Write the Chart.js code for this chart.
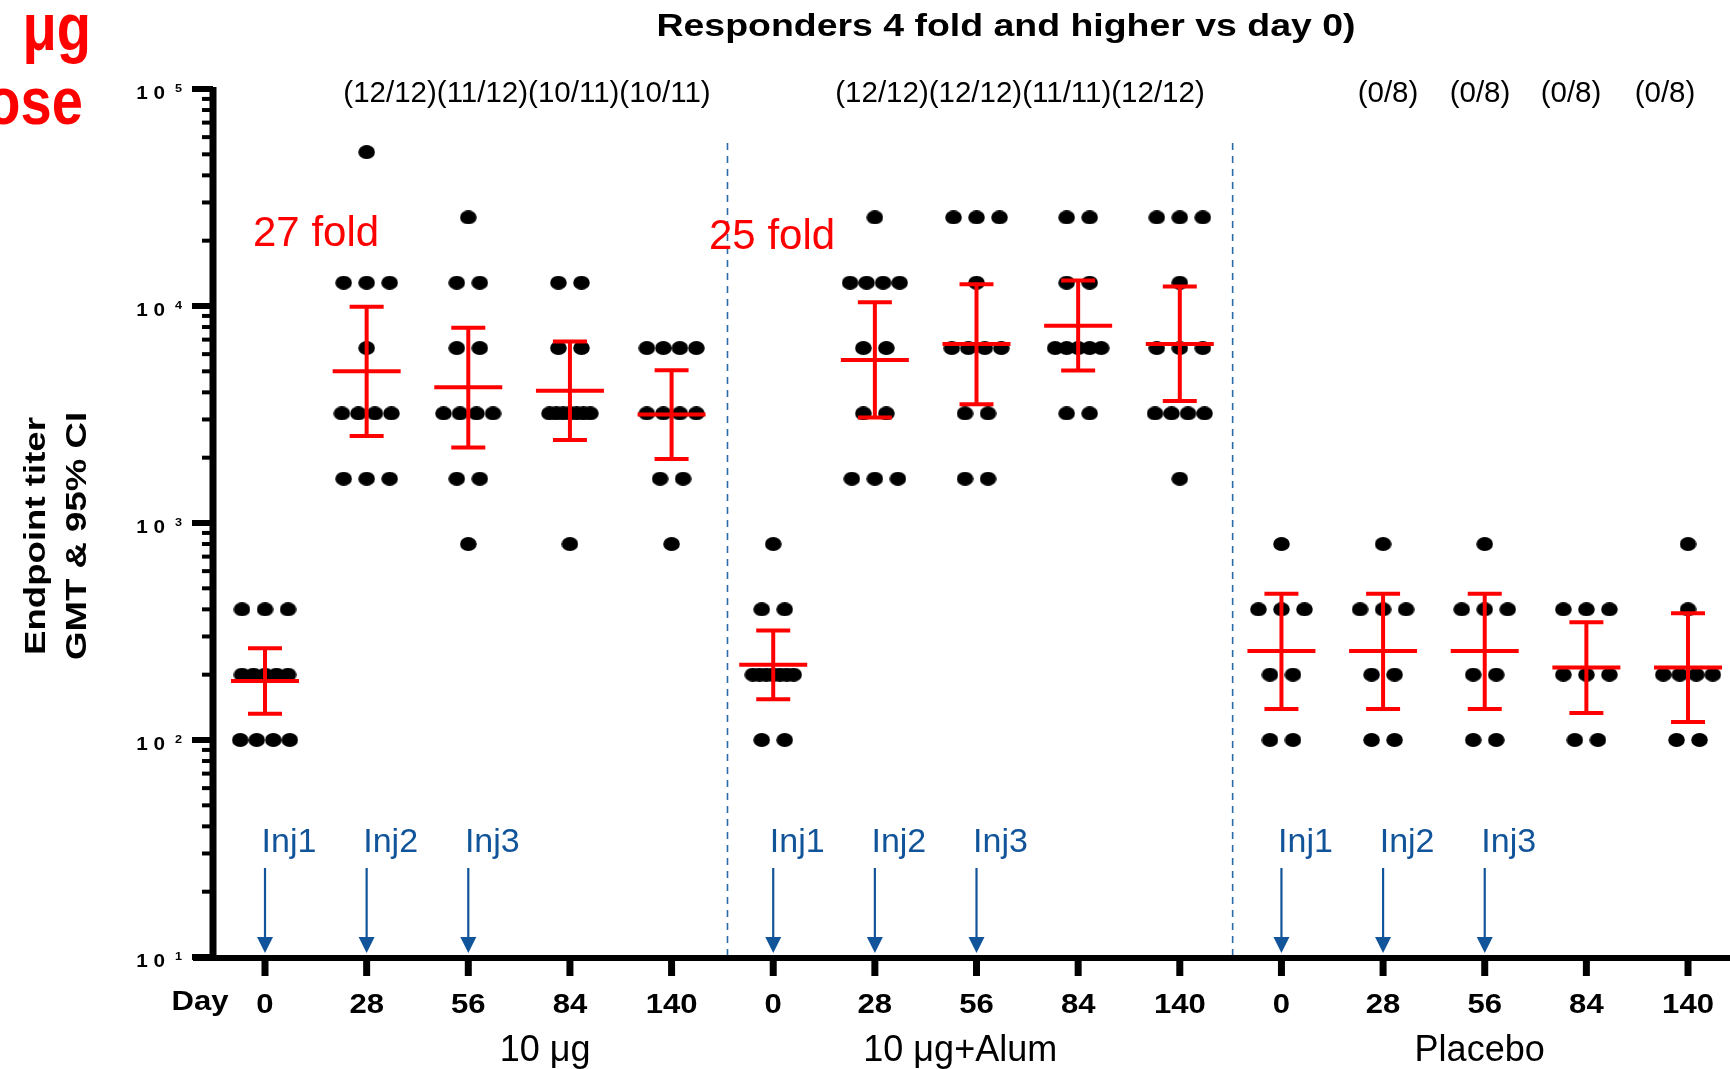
<!DOCTYPE html>
<html>
<head>
<meta charset="utf-8">
<script src="https://cdn.jsdelivr.net/npm/chart.js@4.4.1/dist/chart.umd.min.js"></script>
<style>
  html, body { margin: 0; padding: 0; background: #fff; overflow: hidden; }
</style>
</head>
<body>
<canvas id="titerChart" width="1730" height="1069"></canvas>
<script>
// groups and sampling days along the x axis
const groups = ['10 μg', '10 μg+Alum', 'Placebo'];
const days = ['0', '28', '56', '84', '140'];
const yTickPowers = [1, 2, 3, 4, 5];

// individual endpoint titers, one array per day
const titers10 = [
    [400, 400, 400, 200, 200, 200, 200, 200, 100, 100, 100, 100],
    [51200, 12800, 12800, 12800, 6400, 3200, 3200, 3200, 3200, 1600, 1600, 1600],
    [25600, 12800, 12800, 6400, 6400, 3200, 3200, 3200, 3200, 1600, 1600, 800],
    [12800, 12800, 6400, 6400, 3200, 3200, 3200, 3200, 3200, 3200, 3200, 800],
    [6400, 6400, 6400, 6400, 3200, 3200, 3200, 3200, 1600, 1600, 800]
];
const titersAlum = [
    [800, 400, 400, 200, 200, 200, 200, 200, 200, 200, 100, 100],
    [25600, 12800, 12800, 12800, 12800, 6400, 6400, 3200, 3200, 1600, 1600, 1600],
    [25600, 25600, 25600, 12800, 6400, 6400, 6400, 6400, 3200, 3200, 1600, 1600],
    [25600, 25600, 12800, 12800, 6400, 6400, 6400, 6400, 6400, 3200, 3200],
    [25600, 25600, 25600, 12800, 6400, 6400, 6400, 3200, 3200, 3200, 3200, 1600]
];
const titersPlacebo = [
    [800, 400, 400, 400, 200, 200, 100, 100],
    [800, 400, 400, 400, 200, 200, 100, 100],
    [800, 400, 400, 400, 200, 200, 100, 100],
    [400, 400, 400, 200, 200, 200, 100, 100],
    [800, 400, 200, 200, 200, 200, 100, 100]
];

// GMT and 95% CI
const gmt10 = [187, 5010, 4220, 4070, 3160];
const ciLow10 = [132, 2520, 2230, 2410, 1970];
const ciHigh10 = [265, 9930, 7940, 6870, 5060];
const gmtAlum = [222, 5640, 6680, 8110, 6680];
const ciLowAlum = [154, 3060, 3530, 5040, 3650];
const ciHighAlum = [320, 10400, 12600, 13100, 12300];
const gmtPlacebo = [257, 257, 257, 216, 216];
const ciLowPlacebo = [139, 139, 139, 133, 121];
const ciHighPlacebo = [472, 472, 472, 349, 384];

// responders (4 fold and higher vs day 0), days 28..140
const resp10 = ['(12/12)', '(11/12)', '(10/11)', '(10/11)'];
const respAlum = ['(12/12)', '(12/12)', '(11/11)', '(12/12)'];
const respPlacebo = ['(0/8)', '(0/8)', '(0/8)', '(0/8)'];
const foldLabels = ['27 fold', '25 fold'];
const injLabels = ['Inj1', 'Inj2', 'Inj3'];

const allTiters = [titers10, titersAlum, titersPlacebo];
const allGmt = [gmt10, gmtAlum, gmtPlacebo];
const allLow = [ciLow10, ciLowAlum, ciLowPlacebo];
const allHigh = [ciHigh10, ciHighAlum, ciHighPlacebo];

const FONT = "'Liberation Sans', Arial, Helvetica, sans-serif";
const BLUE = '#11549a';
const PX_PER_CAT = 101.6;
// spread of dots in a row, px between neighbours, by row size
const rowGap = { 1: 0, 2: 23, 3: 23, 4: 16.5, 5: 11.5, 6: 9, 7: 6.8 };

let points = [];
allTiters.forEach((grp, g) => {
    grp.forEach((vals, d) => {
        let idx = g * days.length + d;
        let uniq = [...new Set(vals)];
        uniq.forEach(v => {
            let k = vals.filter(t => t === v).length;
            let gap = (rowGap[k] || 6) / PX_PER_CAT;
            for (let j = 0; j < k; j++) {
                points.push({ x: idx + (j - (k - 1) / 2) * gap, y: v });
            }
        });
    });
});

// slightly wide dot, as in the original graph
const dot = document.createElement('canvas');
dot.width = 17;
dot.height = 14;
let dctx = dot.getContext('2d');
dctx.fillStyle = '#000';
dctx.beginPath();
dctx.ellipse(8.5, 7, 8.3, 7, 0, 0, Math.PI * 2);
dctx.fill();

function text(ctx, s, x, y, opts) {
    ctx.save();
    ctx.translate(x, y);
    if (opts.rotate) ctx.rotate(opts.rotate);
    ctx.scale(opts.sx || 1, 1);
    ctx.font = opts.font;
    ctx.fillStyle = opts.color || '#000';
    ctx.textAlign = opts.align || 'center';
    ctx.textBaseline = opts.baseline || 'alphabetic';
    ctx.fillText(s, 0, 0);
    ctx.restore();
}

function line(ctx, x1, y1, x2, y2, w, color) {
    ctx.beginPath();
    ctx.moveTo(x1, y1);
    ctx.lineTo(x2, y2);
    ctx.lineWidth = w;
    ctx.strokeStyle = color;
    ctx.stroke();
}

const errorBars = {
    id: 'errorBars',
    afterDatasetsDraw(chart) {
        const { ctx, scales: { x, y } } = chart;
        ctx.save();
        ctx.lineCap = 'butt';
        allGmt.forEach((gm, g) => {
            gm.forEach((v, d) => {
                let cx = x.getPixelForValue(g * days.length + d);
                let yh = y.getPixelForValue(allHigh[g][d]);
                let yl = y.getPixelForValue(allLow[g][d]);
                let ym = y.getPixelForValue(v);
                line(ctx, cx, yh, cx, yl, 4, '#ff0000');
                line(ctx, cx - 17, yh, cx + 17, yh, 4, '#ff0000');
                line(ctx, cx - 17, yl, cx + 17, yl, 4, '#ff0000');
                line(ctx, cx - 34, ym, cx + 34, ym, 4, '#ff0000');
            });
        });
        ctx.restore();
    }
};

const decor = {
    id: 'decor',
    afterDraw(chart) {
        const { ctx, chartArea: area, scales: { x, y } } = chart;
        ctx.save();

        // group separators
        ctx.setLineDash([7, 6]);
        [4.55, 9.52].forEach(v => {
            let px = x.getPixelForValue(v);
            line(ctx, px, 143, px, area.bottom - 2, 1.6, '#2b6ca8');
        });
        ctx.setLineDash([]);

        // y axis with log ticks
        line(ctx, area.left, area.top - 2, area.left, area.bottom + 4, 7, '#000');
        yTickPowers.forEach(p => {
            let v = Math.pow(10, p);
            let py = y.getPixelForValue(v);
            line(ctx, area.left - 21, py, area.left, py, 6, '#000');
            text(ctx, '1 0', area.left - 48, py + 10, { font: `bold 18px ${FONT}`, align: 'right', sx: 1.15 });
            text(ctx, String(p), area.left - 38, py + 3, { font: `bold 11px ${FONT}`, align: 'left', sx: 1.15 });
            if (p < 5) {
                for (let m = 2; m <= 9; m++) {
                    let my = y.getPixelForValue(m * v);
                    line(ctx, area.left - 11, my, area.left, my, 4, '#000');
                }
            }
        });

        // x axis
        line(ctx, area.left - 20, area.bottom + 1, area.right, area.bottom + 1, 6, '#000');
        groups.forEach((gName, g) => {
            days.forEach((dName, d) => {
                let px = x.getPixelForValue(g * days.length + d);
                line(ctx, px, area.bottom + 3, px, area.bottom + 19, 7, '#000');
                text(ctx, dName, px, 1013, { font: `bold 27px ${FONT}`, sx: 1.15 });
            });
        });
        text(ctx, 'Day', 200, 1010, { font: `bold 27px ${FONT}`, sx: 1.15 });
        [2.755, 6.84, 11.95].forEach((v, g) => {
            text(ctx, groups[g], x.getPixelForValue(v), 1061, { font: `36px ${FONT}` });
        });

        // axis title
        text(ctx, 'Endpoint titer', 37, 536, { font: `bold 30px ${FONT}`, rotate: -Math.PI / 2, baseline: 'middle', sx: 1.22 });
        text(ctx, 'GMT & 95% CI', 78, 536, { font: `bold 30px ${FONT}`, rotate: -Math.PI / 2, baseline: 'middle', sx: 1.22 });

        // titles and notes
        text(ctx, 'Responders 4 fold and higher vs day 0)', 1006, 36, { font: `bold 32px ${FONT}`, sx: 1.17 });
        text(ctx, 'μg', 91, 50, { font: `bold 66px ${FONT}`, color: '#ff0000', align: 'right', sx: 0.85 });
        text(ctx, 'Dose', 83, 124, { font: `bold 66px ${FONT}`, color: '#ff0000', align: 'right', sx: 0.85 });
        text(ctx, resp10.join(''), 527, 102, { font: `29.5px ${FONT}` });
        text(ctx, respAlum.join(''), 1020, 102, { font: `29.5px ${FONT}` });
        [1388, 1480, 1571, 1665].forEach((px, i) => {
            text(ctx, respPlacebo[i], px, 102, { font: `29.5px ${FONT}` });
        });
        text(ctx, foldLabels[0], 253, 246, { font: `42px ${FONT}`, color: '#ff0000', align: 'left' });
        text(ctx, foldLabels[1], 709, 249, { font: `42px ${FONT}`, color: '#ff0000', align: 'left' });

        // injection arrows
        groups.forEach((gName, g) => {
            injLabels.forEach((lab, d) => {
                let px = x.getPixelForValue(g * days.length + d);
                line(ctx, px, 868, px, 940, 2.2, BLUE);
                ctx.beginPath();
                ctx.moveTo(px - 8, 937);
                ctx.lineTo(px + 8, 937);
                ctx.lineTo(px, 953);
                ctx.closePath();
                ctx.fillStyle = BLUE;
                ctx.fill();
                text(ctx, lab, px + 24, 852, { font: `34px ${FONT}`, color: BLUE });
            });
        });

        ctx.restore();
    }
};

const ctx = document.getElementById('titerChart');
new Chart(ctx, {
    type: 'scatter',
    data: {
        datasets: [{
            data: points,
            pointStyle: dot,
            pointRadius: 8,
            pointHoverRadius: 8
        }]
    },
    options: {
        animation: false,
        responsive: false,
        events: [],
        layout: { autoPadding: false, padding: { left: 213, right: 0, top: 89, bottom: 112 } },
        plugins: {
            legend: { display: false },
            tooltip: { enabled: false }
        },
        scales: {
            x: { type: 'linear', display: false, bounds: 'data', min: -0.5116, max: 14.413 },
            y: { type: 'logarithmic', display: false, min: 10, max: 100000 }
        }
    },
    plugins: [errorBars, decor]
});
</script>
</body>
</html>
